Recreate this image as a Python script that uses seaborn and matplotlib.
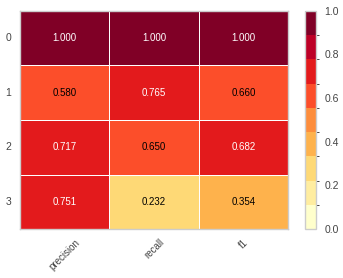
import numpy as np
import pandas as pd
import matplotlib
matplotlib.use("Agg")
import matplotlib.pyplot as plt
import seaborn as sns
from matplotlib.colors import ListedColormap, BoundaryNorm

# ===============================
# data
# ===============================
classes = ["0", "1", "2", "3"]
metrics = ["precision", "recall", "f1"]
precision = [1.000, 0.580, 0.717, 0.751]
recall = [1.000, 0.765, 0.650, 0.232]
f1 = [1.000, 0.660, 0.682, 0.354]

df = pd.DataFrame({"precision": precision, "recall": recall, "f1": f1}, index=classes)

# ===============================
# style
# ===============================
sns.set_style("white")
plt.rcParams["font.family"] = ["Liberation Sans", "DejaVu Sans"]

cmap = ListedColormap(plt.get_cmap("YlOrRd", 9)(np.arange(9)))
norm = BoundaryNorm(np.linspace(0, 1, 10), cmap.N)

fig = plt.figure(figsize=(3.43, 2.78), dpi=100)
ax = fig.add_axes([0.058, 0.176, 0.783, 0.785])
cax = fig.add_axes([0.889, 0.176, 0.032, 0.785])

sns.heatmap(df, ax=ax, cbar_ax=cax, cmap=cmap, norm=norm, vmin=0, vmax=1,
            linewidths=0.7, linecolor="white", annot=False)

for i, cls in enumerate(classes):
    for j, m in enumerate(metrics):
        v = df.loc[cls, m]
        color = "white" if v > 0.667 else "black"
        ax.text(j + 0.5, i + 0.5, f"{v:.3f}", ha="center", va="center",
                color=color, fontsize=7)

ax.set_xticklabels(metrics, rotation=45, fontsize=7, color="#444444")
ax.set_yticklabels(classes, rotation=0, fontsize=7.5, color="#444444")
ax.tick_params(length=0, pad=6)
for s in ax.spines.values():
    s.set_visible(True)
    s.set_color("#cccccc")
    s.set_linewidth(1)

cbar = ax.collections[0].colorbar
cbar.set_ticks([0.0, 0.2, 0.4, 0.6, 0.8, 1.0])
cbar.ax.tick_params(labelsize=7.5, length=0, labelcolor="#444444", pad=6)
cbar.outline.set_visible(True)
cbar.outline.set_edgecolor("#cccccc")
cbar.outline.set_linewidth(1)

plt.savefig("out.png", dpi=100)
plt.close()
